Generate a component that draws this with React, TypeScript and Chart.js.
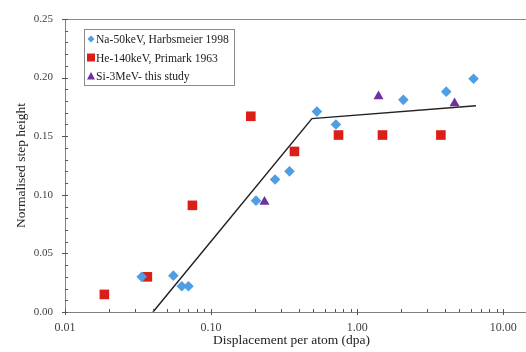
import React, { useEffect, useRef } from "react";
import { Chart, registerables } from "chart.js";

Chart.register(...registerables);

const naLabel = "Na-50keV, Harbsmeier 1998";
const naX = [0.0335, 0.0552, 0.063, 0.07, 0.203, 0.274, 0.344, 0.53, 0.715, 2.07, 4.07, 6.26];
const naY = [0.030, 0.031, 0.022, 0.022, 0.095, 0.113, 0.120, 0.171, 0.160, 0.181, 0.188, 0.199];

const heLabel = "He-140keV, Primark 1963";
const heX = [0.0186, 0.0366, 0.0745, 0.187, 0.372, 0.745, 1.49, 3.74];
const heY = [0.015, 0.030, 0.091, 0.167, 0.137, 0.151, 0.151, 0.151];

const siLabel = "Si-3MeV- this study";
const siX = [0.232, 1.40, 4.64];
const siY = [0.094, 0.184, 0.178];

const fitX = [0.040, 0.49, 6.5];
const fitY = [0.0, 0.165, 0.176];

const xTicks = [0.01, 0.1, 1, 10];
const yMin = 0;
const yMax = 0.25;
const yStep = 0.05;
const xTitle = "Displacement per atom (dpa)";
const yTitle = "Normalised step height";

const FONT = "'Liberation Serif', 'Times New Roman', serif";

const pts = (xs: number[], ys: number[]) => xs.map((x, i) => ({ x, y: ys[i] }));

const frameTicks = {
  id: "frameTicks",
  afterDraw(chart: any) {
    const { ctx, chartArea } = chart;
    const xs = chart.scales.x;
    const ys = chart.scales.y;
    ctx.save();
    ctx.lineWidth = 1;
    ctx.strokeStyle = "#8a8a8a";
    ctx.beginPath();
    ctx.moveTo(chartArea.left, chartArea.top + 0.5);
    ctx.lineTo(chart.width, chartArea.top + 0.5);
    ctx.stroke();
    ctx.strokeStyle = "#808080";
    ctx.beginPath();
    ctx.moveTo(chartArea.left, Math.round(chartArea.bottom) + 0.5);
    ctx.lineTo(chart.width, Math.round(chartArea.bottom) + 0.5);
    ctx.stroke();
    ctx.strokeStyle = "#555";
    ctx.beginPath();
    for (let k = 0; k <= 25; k++) {
      const v = k * 0.01;
      const py = Math.round(ys.getPixelForValue(v)) + 0.5;
      const major = k % 5 === 0;
      ctx.moveTo(chartArea.left - (major ? 3 : 0), py);
      ctx.lineTo(chartArea.left + 3, py);
    }
    for (let d = -2; d <= 1; d++) {
      for (let m = 1; m <= 9; m++) {
        const v = m * Math.pow(10, d);
        if (v > xs.max) continue;
        const px = Math.round(xs.getPixelForValue(v)) + 0.5;
        ctx.moveTo(px, chartArea.bottom + (m === 1 ? 3 : 0));
        ctx.lineTo(px, chartArea.bottom - 3);
      }
    }
    ctx.stroke();
    ctx.restore();
  },
};

const boxLegend = {
  id: "boxLegend",
  afterDraw(chart: any) {
    const { ctx } = chart;
    const items = chart.data.datasets.filter((d: any) => d.legendShow);
    const bx = 84, by = 29, bw = 150, bh = 56;
    ctx.save();
    ctx.fillStyle = "#fff";
    ctx.fillRect(bx, by, bw, bh);
    ctx.strokeStyle = "#8a8a8a";
    ctx.lineWidth = 1;
    ctx.strokeRect(bx + 0.5, by + 0.5, bw, bh);
    ctx.font = `11.6px ${FONT}`;
    ctx.textBaseline = "middle";
    items.forEach((d: any, i: number) => {
      const cy = by + 10 + i * 18.5;
      const cx = 91;
      ctx.save();
      ctx.fillStyle = d.backgroundColor;
      ctx.beginPath();
      if (d.pointStyle === "rectRot") {
        ctx.moveTo(cx, cy - 3.5); ctx.lineTo(cx + 3.5, cy); ctx.lineTo(cx, cy + 3.5); ctx.lineTo(cx - 3.5, cy);
      } else if (d.pointStyle === "rect") {
        ctx.rect(cx - 4, cy - 4, 8, 8);
      } else {
        ctx.moveTo(cx, cy - 4); ctx.lineTo(cx + 4, cy + 3.5); ctx.lineTo(cx - 4, cy + 3.5);
      }
      ctx.closePath();
      ctx.fill();
      ctx.restore();
      ctx.fillStyle = "#222";
      ctx.fillText(d.label, 96, cy + 1);
    });
    ctx.restore();
  },
};

export default function App() {
  const ref = useRef<HTMLCanvasElement>(null);
  useEffect(() => {
    document.body.style.margin = "0";
    const chart = new Chart(ref.current as HTMLCanvasElement, {
      type: "scatter",
      data: {
        datasets: [
          {
            label: "fit",
            type: "line",
            data: pts(fitX, fitY),
            borderColor: "#222",
            borderWidth: 1.5,
            pointRadius: 0,
            showLine: true,
            fill: false,
            order: 5,
          } as any,
          {
            label: naLabel,
            legendShow: true,
            data: pts(naX, naY),
            pointStyle: "rectRot",
            pointRadius: 5.3,
            backgroundColor: "#4f9ee3",
            borderColor: "#4f9ee3",
            borderWidth: 0,
          } as any,
          {
            label: heLabel,
            legendShow: true,
            data: pts(heX, heY),
            pointStyle: "rect",
            pointRadius: 6.8,
            backgroundColor: "#dc1f16",
            borderColor: "#dc1f16",
            borderWidth: 0,
          } as any,
          {
            label: siLabel,
            legendShow: true,
            data: pts(siX, siY),
            pointStyle: "triangle",
            pointRadius: 5.8,
            backgroundColor: "#7030a0",
            borderColor: "#7030a0",
            borderWidth: 0,
          } as any,
        ],
      },
      options: {
        animation: false,
        responsive: false,
        maintainAspectRatio: false,
        layout: { padding: { top: 19, right: 0, left: 0, bottom: 0 } },
        plugins: { legend: { display: false }, tooltip: { enabled: false } },
        scales: {
          x: {
            type: "logarithmic",
            min: 0.01,
            max: 12.6,
            afterBuildTicks: (s: any) => {
              s.ticks = xTicks.map((v) => ({ value: v }));
            },
            afterFit: (s: any) => {
              s.height = 40;
            },
            grid: { display: false, drawTicks: false },
            border: { display: false },
            ticks: {
              autoSkip: false,
              maxRotation: 0,
              padding: 9,
              color: "#404040",
              font: { family: FONT, size: 12 },
              callback: (v: any) => Number(v).toFixed(2),
            },
            title: {
              display: true,
              text: xTitle,
              color: "#222",
              font: { family: FONT, size: 13.5 },
              padding: { top: 0, bottom: 3 },
            },
          },
          y: {
            type: "linear",
            min: yMin,
            max: yMax,
            afterFit: (s: any) => {
              s.width = 65;
            },
            grid: { display: false, drawTicks: false },
            border: { display: true, color: "#808080", width: 1 },
            ticks: {
              stepSize: yStep,
              padding: 12,
              color: "#404040",
              font: { family: FONT, size: 11 },
              callback: (v: any) => Number(v).toFixed(2),
            },
            title: {
              display: true,
              text: yTitle,
              color: "#222",
              font: { family: FONT, size: 13.5 },
              padding: { top: 13, bottom: 0 },
            },
          },
        },
      } as any,
      plugins: [frameTicks, boxLegend],
    });
    return () => chart.destroy();
  }, []);
  return (
    <div style={{ width: 526, height: 352 }}>
      <canvas ref={ref} width={526} height={352} style={{ width: 526, height: 352 }} />
    </div>
  );
}
